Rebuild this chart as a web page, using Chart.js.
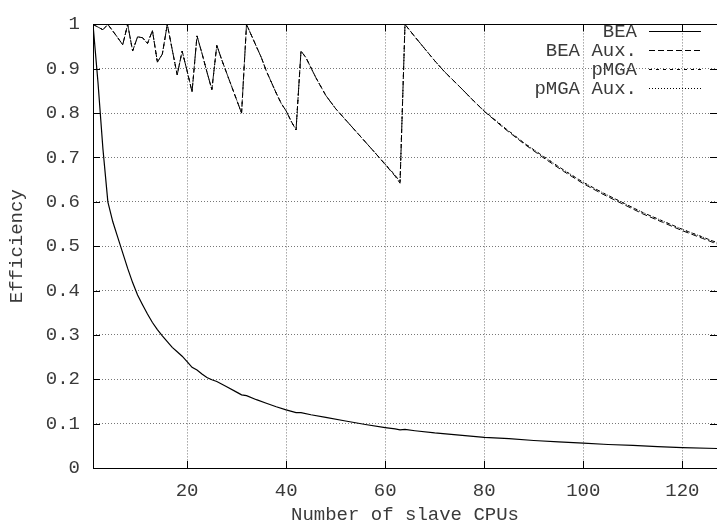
<!DOCTYPE html>
<html>
<head>
<meta charset="utf-8">
<script src="https://cdn.jsdelivr.net/npm/chart.js@4.4.1/dist/chart.umd.min.js"></script>
<style>
  html, body { margin: 0; padding: 0; background: #fff; }
  #wrap { width: 717px; height: 526px; }
</style>
</head>
<body>
<div id="wrap"><canvas id="effChart" width="717" height="526"></canvas></div>
<script>
// values
const beaN = [1,2,3,4,5,6,7,8,9,10,11,12,13,14,15,16,17,18,19,20,21,22,23,24,25,26,28,30,31,32,34,36,38,40,42,43,45,48,52,56,60,62,63,64,66,70,75,80,85,90,95,100,105,110,115,120,127];
const beaEff = [1.0,0.87,0.72,0.60,0.555,0.52,0.485,0.45,0.418,0.39,0.368,0.347,0.328,0.312,0.298,0.285,0.272,0.262,0.252,0.24,0.227,0.221,0.212,0.204,0.199,0.195,0.183,0.171,0.165,0.163,0.154,0.146,0.138,0.131,0.125,0.125,0.12,0.114,0.106,0.098,0.091,0.088,0.086,0.087,0.084,0.079,0.074,0.069,0.066,0.062,0.059,0.056,0.053,0.051,0.048,0.046,0.044];

const topN = [1,2,3,4,5,6,7,8,9,10,11,12,13,14,15,16,17,18,19,20,21,22,23,24,25,26,27,28,29,30,31,32,33,34,35,36,37,38,39,40,41,42,43,44,46,48,50,52,54,56,58,60,62,63,64,66,68,70,72,75,78,80,84,88,92,96,100,104,108,112,116,120,124,127];
const pmgaEff = [1.0,0.994,0.988,1.0,0.985,0.97,0.954,1.0,0.94,0.972,0.97,0.957,0.986,0.915,0.933,1.0,0.943,0.886,0.94,0.895,0.848,0.974,0.935,0.893,0.853,0.953,0.92,0.89,0.86,0.83,0.80,1.0,0.975,0.95,0.925,0.895,0.87,0.845,0.822,0.805,0.782,0.762,0.94,0.925,0.88,0.84,0.81,0.785,0.76,0.735,0.71,0.685,0.66,0.645,1.0,0.972,0.945,0.918,0.893,0.86,0.826,0.805,0.768,0.733,0.702,0.672,0.644,0.62,0.598,0.576,0.557,0.538,0.521,0.508];
const beaAuxEff = [1.0,0.994,0.988,1.0,0.985,0.97,0.954,1.0,0.94,0.972,0.97,0.957,0.986,0.915,0.933,1.0,0.943,0.886,0.94,0.895,0.848,0.974,0.935,0.893,0.853,0.953,0.92,0.89,0.86,0.83,0.80,1.0,0.975,0.95,0.925,0.895,0.87,0.845,0.822,0.805,0.782,0.762,0.94,0.925,0.88,0.84,0.81,0.785,0.76,0.735,0.71,0.684,0.658,0.642,1.0,0.972,0.945,0.918,0.893,0.86,0.826,0.804,0.766,0.731,0.699,0.669,0.641,0.617,0.595,0.573,0.554,0.535,0.518,0.505];
const pmgaAuxEff = [1.0,0.994,0.988,1.0,0.985,0.97,0.954,1.0,0.94,0.972,0.97,0.957,0.986,0.915,0.933,1.0,0.943,0.886,0.94,0.895,0.848,0.974,0.935,0.893,0.853,0.953,0.92,0.89,0.86,0.83,0.80,1.0,0.975,0.95,0.925,0.895,0.87,0.845,0.822,0.805,0.782,0.762,0.94,0.925,0.88,0.84,0.81,0.785,0.76,0.735,0.71,0.685,0.66,0.645,1.0,0.972,0.945,0.918,0.893,0.86,0.826,0.805,0.768,0.733,0.702,0.672,0.644,0.62,0.598,0.576,0.557,0.538,0.521,0.508];

const xTicks = [20, 40, 60, 80, 100, 120];
const yTicks = [0, 0.1, 0.2, 0.3, 0.4, 0.5, 0.6, 0.7, 0.8, 0.9, 1];

const seriesNames = ["BEA", "BEA Aux.", "pMGA", "pMGA Aux."];

const FONT = "'Liberation Mono', 'DejaVu Sans Mono', monospace";
const TEXT = "#3a3a3a";

function pts(xs, ys) {
    return xs.map((x, i) => ({ x: x, y: ys[i] }));
}

// gnuplot style: box, inward tick marks, key at top right
const gnuplotFrame = {
    id: "gnuplotFrame",
    afterDatasetsDraw(chart) {
        const { ctx, chartArea: a, scales } = chart;
        ctx.save();
        ctx.strokeStyle = "#000";
        ctx.lineWidth = 1;
        ctx.setLineDash([]);
        ctx.beginPath();
        xTicks.forEach(v => {
            const px = Math.round(scales.x.getPixelForValue(v)) + 0.5;
            ctx.moveTo(px, a.bottom); ctx.lineTo(px, a.bottom - 7);
            ctx.moveTo(px, a.top); ctx.lineTo(px, a.top + 7);
        });
        yTicks.forEach(v => {
            const py = Math.round(scales.y.getPixelForValue(v)) + 0.5;
            ctx.moveTo(a.left, py); ctx.lineTo(a.left + 7, py);
            ctx.moveTo(a.right, py); ctx.lineTo(a.right - 7, py);
        });
        ctx.stroke();
        ctx.strokeRect(Math.round(a.left) + 0.5, Math.round(a.top) + 0.5,
            Math.round(a.right - a.left), Math.round(a.bottom - a.top));

        // key
        ctx.font = "19px " + FONT;
        ctx.fillStyle = TEXT;
        ctx.textAlign = "right";
        ctx.textBaseline = "middle";
        chart.data.datasets.forEach((ds, i) => {
            const y = 31 + i * 19;
            ctx.fillText(ds.label, 637, y + 1);
            ctx.setLineDash(ds.borderDash || []);
            ctx.beginPath();
            ctx.moveTo(649, y + 0.5);
            ctx.lineTo(701, y + 0.5);
            ctx.stroke();
        });
        ctx.restore();
    }
};

const ctx = document.getElementById("effChart").getContext("2d");
const effChart = new Chart(ctx, {
    type: "line",
    data: {
        datasets: [
            { label: seriesNames[0], data: pts(beaN, beaEff), borderColor: "#000", borderWidth: 1.2, borderDash: [] },
            { label: seriesNames[1], data: pts(topN, beaAuxEff), borderColor: "#000", borderWidth: 1, borderDash: [6, 3] },
            { label: seriesNames[2], data: pts(topN, pmgaEff), borderColor: "#000", borderWidth: 1, borderDash: [3, 4] },
            { label: seriesNames[3], data: pts(topN, pmgaAuxEff), borderColor: "#000", borderWidth: 1, borderDash: [1, 2] }
        ]
    },
    options: {
        responsive: false,
        animation: false,
        layout: { padding: { top: 13, right: 0, left: 0, bottom: 0 } },
        elements: { point: { radius: 0 }, line: { tension: 0, fill: false } },
        plugins: { legend: { display: false }, tooltip: { enabled: false } },
        scales: {
            x: {
                type: "linear",
                min: 1,
                max: 127,
                afterBuildTicks: s => { s.ticks = xTicks.map(v => ({ value: v })); },
                afterFit: s => { s.height = 58; },
                grid: { color: "#777", lineWidth: 1, drawTicks: false },
                border: { display: false, dash: [1, 2] },
                ticks: { color: TEXT, font: { family: FONT, size: 19 }, padding: 12, maxRotation: 0 },
                title: { display: true, text: "Number of slave CPUs", color: TEXT, font: { family: FONT, size: 19 }, padding: { top: 2, bottom: 0 } }
            },
            y: {
                min: 0,
                max: 1,
                afterBuildTicks: s => { s.ticks = yTicks.map(v => ({ value: v })); },
                afterFit: s => { s.width = 93; },
                grid: { color: "#777", lineWidth: 1, drawTicks: false },
                border: { display: false, dash: [1, 2] },
                ticks: { color: TEXT, font: { family: FONT, size: 19 }, padding: 13, callback: v => String(v) },
                title: { display: true, text: "Efficiency", color: TEXT, font: { family: FONT, size: 19 }, padding: { top: 6, bottom: 0 } }
            }
        }
    },
    plugins: [gnuplotFrame]
});
</script>
</body>
</html>
